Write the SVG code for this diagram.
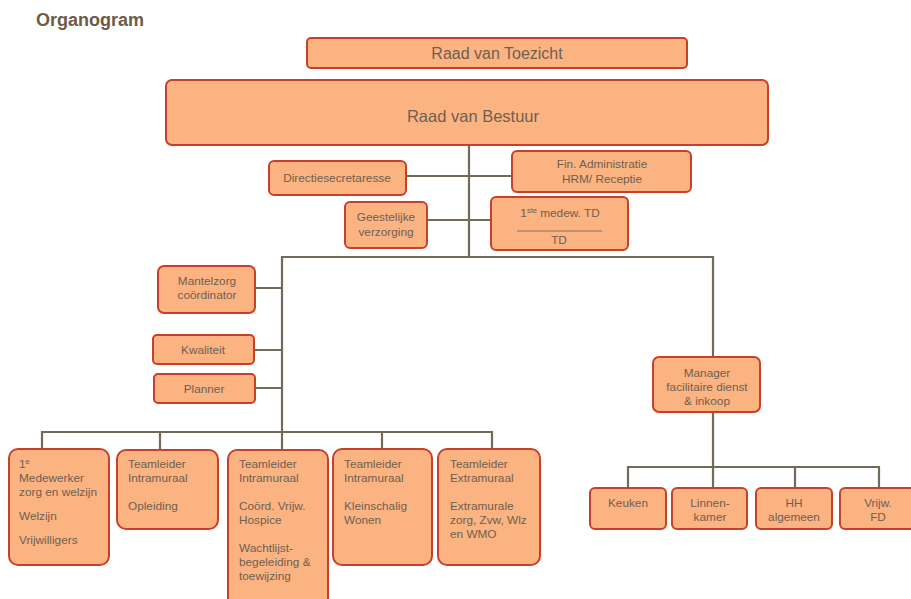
<svg xmlns="http://www.w3.org/2000/svg" width="911" height="599" viewBox="0 0 911 599">
<style>
.box{fill:#fbb382;stroke:#c9402a;stroke-width:2}
.t{font-family:"Liberation Sans",Arial,sans-serif;font-size:11.8px;fill:#6e5f50}
.c{text-anchor:middle}
.ln{stroke:#736a5a;stroke-width:2.2;fill:none}
.title{font-family:"Liberation Sans",Arial,sans-serif;font-size:18px;font-weight:bold;fill:#6b5b47}
</style>
<rect width="911" height="599" fill="#ffffff"/>
<text class="title" x="36" y="26">Organogram</text>
<g id="connectors">
<path class="ln" d="M469 145V257"/>
<path class="ln" d="M406 176H512"/>
<path class="ln" d="M427 220H491" stroke-width="3.2"/>
<path class="ln" d="M282 432V257H713V357"/>
<path class="ln" d="M255 288H282M254 350H282M255 388H282"/>
<path class="ln" d="M42 450V432H492V450M160 432V450M282 432V450M382 432V450"/>
<path class="ln" d="M713 412V467M628 488V467H879V488M713 467V488M795 467V488"/>
</g>
<g id="rvt"><rect class="box" x="307" y="38" width="380" height="30" rx="4"/><text class="t c" x="497" y="59" style="font-size:16px">Raad van Toezicht</text></g>
<g id="rvb"><rect class="box" x="166" y="80" width="602" height="65" rx="6"/><text class="t c" x="473" y="122" style="font-size:16.5px">Raad van Bestuur</text></g>
<g id="directiesecretaresse"><rect class="box" x="269" y="161" width="137" height="34" rx="5"/><text class="t c" x="337" y="182">Directiesecretaresse</text></g>
<g id="fin"><rect class="box" x="512" y="151" width="179" height="41" rx="5"/><text class="t c" x="602" y="168">Fin. Administratie</text><text class="t c" x="602" y="183">HRM/ Receptie</text></g>
<g id="geestelijke"><rect class="box" x="345" y="202" width="82" height="46" rx="5"/><text class="t c" x="386" y="221">Geestelijke</text><text class="t c" x="386" y="236">verzorging</text></g>
<g id="td"><rect class="box" x="491" y="197" width="137" height="53" rx="5"/><text class="t c" x="560" y="217">1<tspan style="font-size:7.5px" dy="-4">ste</tspan><tspan dy="4"> medew. TD</tspan></text><line x1="517" y1="231" x2="602" y2="231" stroke="#6e5f50" stroke-width="0.8"/><text class="t c" x="559" y="244">TD</text></g>
<g id="mantelzorg"><rect class="box" x="158" y="266" width="97" height="47" rx="6"/><text class="t c" x="207" y="285">Mantelzorg</text><text class="t c" x="207" y="299">coördinator</text></g>
<g id="kwaliteit"><rect class="box" x="153" y="335" width="101" height="29" rx="4"/><text class="t c" x="203" y="354">Kwaliteit</text></g>
<g id="planner"><rect class="box" x="154" y="374" width="101" height="29" rx="4"/><text class="t c" x="204" y="393">Planner</text></g>
<g id="medewerker"><rect class="box" x="9" y="449" width="100" height="116" rx="9"/><text class="t" x="19" y="468">1<tspan style="font-size:7.5px" dy="-4">e</tspan></text><text class="t" x="19" y="482">Medewerker</text><text class="t" x="19" y="496">zorg en welzijn</text><text class="t" x="19" y="520">Welzijn</text><text class="t" x="19" y="544">Vrijwilligers</text></g>
<g id="opleiding"><rect class="box" x="117" y="450" width="101" height="79" rx="9"/><text class="t" x="128" y="468">Teamleider</text><text class="t" x="128" y="482">Intramuraal</text><text class="t" x="128" y="510">Opleiding</text></g>
<g id="hospice"><rect class="box" x="228" y="450" width="100" height="160" rx="9"/><text class="t" x="239" y="468">Teamleider</text><text class="t" x="239" y="482">Intramuraal</text><text class="t" x="239" y="510">Coörd. Vrijw.</text><text class="t" x="239" y="524">Hospice</text><text class="t" x="239" y="552">Wachtlijst-</text><text class="t" x="239" y="566">begeleiding &amp;</text><text class="t" x="239" y="580">toewijzing</text></g>
<g id="kleinschalig"><rect class="box" x="333" y="449" width="99" height="116" rx="9"/><text class="t" x="344" y="468">Teamleider</text><text class="t" x="344" y="482">Intramuraal</text><text class="t" x="344" y="510">Kleinschalig</text><text class="t" x="344" y="524">Wonen</text></g>
<g id="extramuraal"><rect class="box" x="438" y="449" width="102" height="116" rx="9"/><text class="t" x="450" y="468">Teamleider</text><text class="t" x="450" y="482">Extramuraal</text><text class="t" x="450" y="510">Extramurale</text><text class="t" x="450" y="524">zorg, Zvw, Wlz</text><text class="t" x="450" y="538">en WMO</text></g>
<g id="manager"><rect class="box" x="653" y="357" width="107" height="55" rx="6"/><text class="t c" x="707" y="377">Manager</text><text class="t c" x="707" y="391">facilitaire dienst</text><text class="t c" x="707" y="405">&amp; inkoop</text></g>
<g id="keuken"><rect class="box" x="590" y="488" width="76" height="41" rx="5"/><text class="t c" x="628" y="507">Keuken</text></g>
<g id="linnenkamer"><rect class="box" x="672" y="488" width="75" height="41" rx="5"/><text class="t c" x="710" y="507">Linnen-</text><text class="t c" x="710" y="521">kamer</text></g>
<g id="hh"><rect class="box" x="756" y="488" width="76" height="41" rx="5"/><text class="t c" x="794" y="507">HH</text><text class="t c" x="794" y="521">algemeen</text></g>
<g id="vrijwfd"><rect class="box" x="840" y="488" width="76" height="41" rx="5"/><text class="t c" x="878" y="507">Vrijw.</text><text class="t c" x="878" y="521">FD</text></g>
</svg>
